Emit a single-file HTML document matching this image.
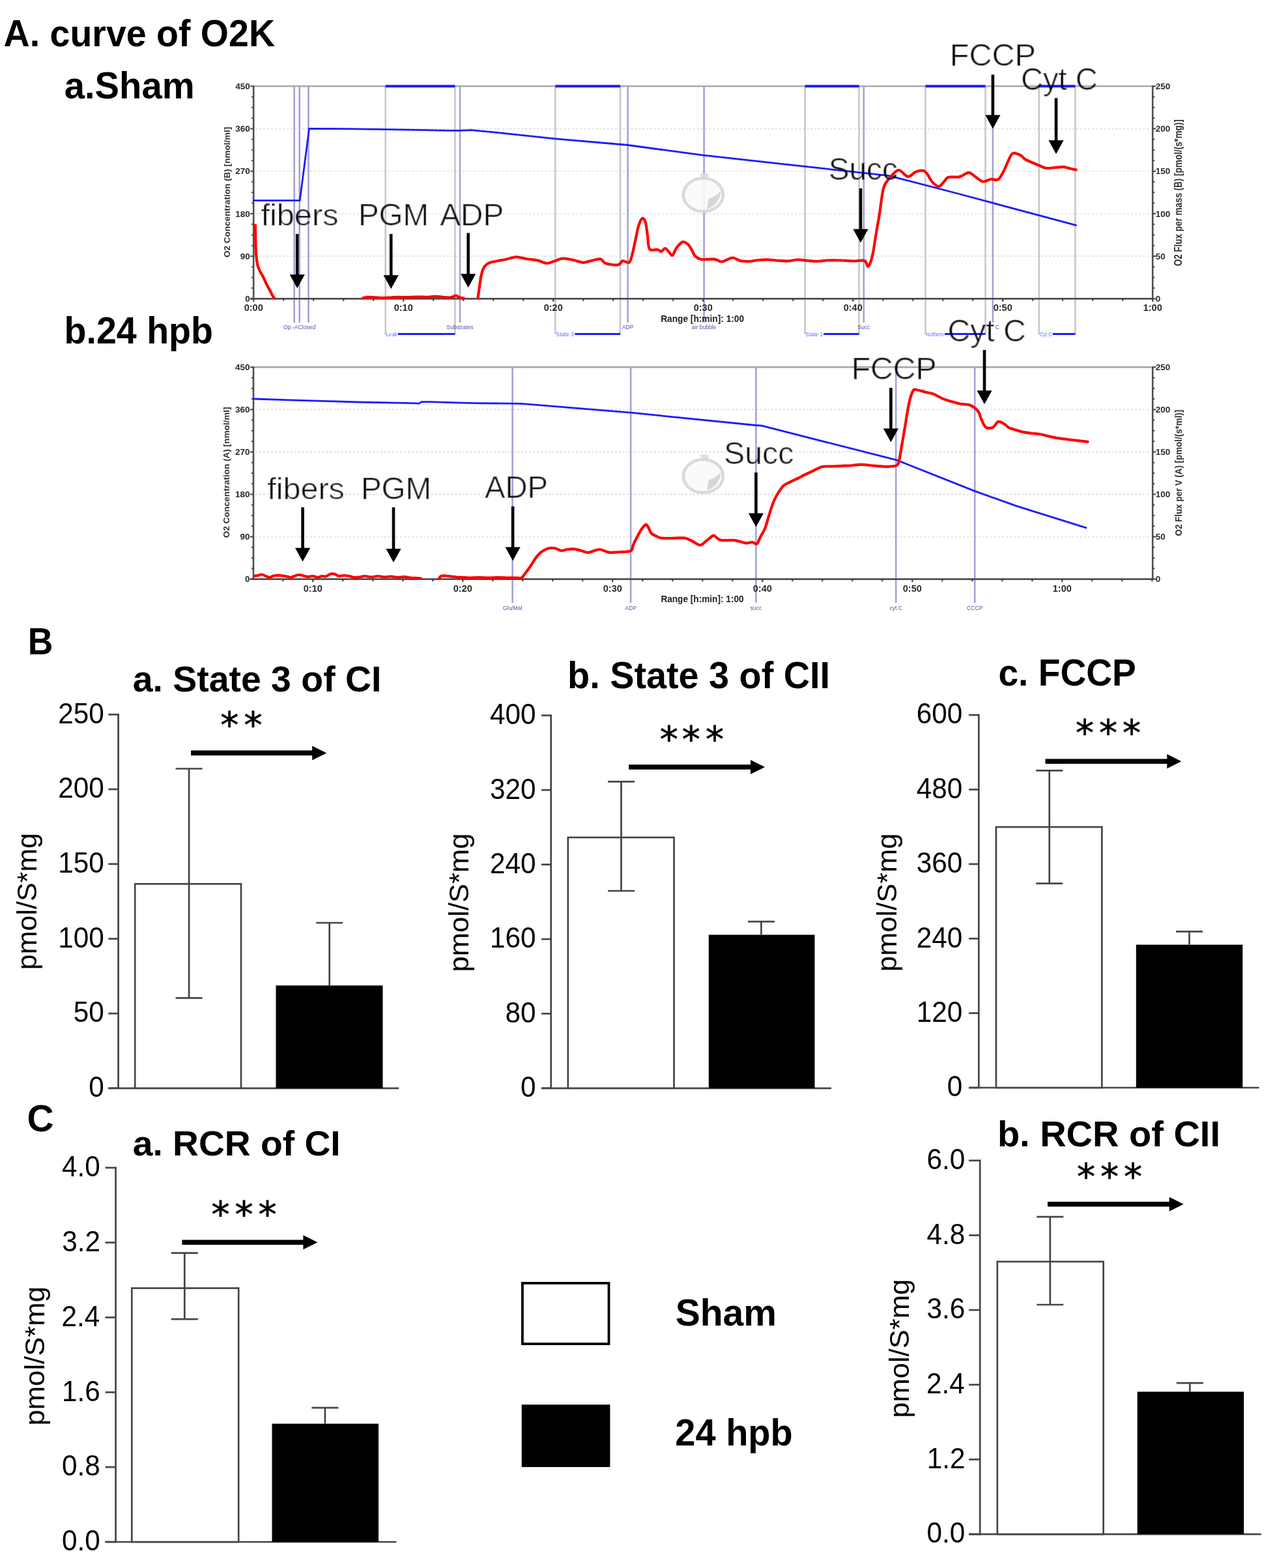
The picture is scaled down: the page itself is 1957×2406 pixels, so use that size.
<!DOCTYPE html>
<html><head><meta charset="utf-8"><title>O2K mitochondrial respiration figure</title>
<style>
html,body{margin:0;padding:0;background:#fff;}
svg{display:block;}
text{font-family:"Liberation Sans",Arial,sans-serif;font-kerning:none;}
</style></head><body>
<svg width="1957" height="2406" viewBox="0 0 1957 2406">
<defs><filter id="soft" x="0" y="0" width="1957" height="2406" filterUnits="userSpaceOnUse"><feGaussianBlur stdDeviation="0.45"/></filter><filter id="thin" x="-5%" y="-20%" width="110%" height="140%"><feMorphology in="SourceGraphic" operator="erode" radius="0.55" result="e"/><feComposite in="e" in2="SourceGraphic" operator="arithmetic" k1="0" k2="0.45" k3="0.55" k4="0"/></filter></defs>
<rect x="0" y="0" width="1957" height="2406" fill="#fff"/>
<text x="5.62" y="70.70" font-size="57.16" textLength="416.40" lengthAdjust="spacingAndGlyphs" font-weight="bold" fill="#000">A. curve of O2K</text>
<text x="98.75" y="151.00" font-size="57.45" textLength="199.93" lengthAdjust="spacingAndGlyphs" font-weight="bold" fill="#000">a.Sham</text>
<text x="98.54" y="526.50" font-size="57.30" textLength="228.44" lengthAdjust="spacingAndGlyphs" font-weight="bold" fill="#000">b.24 hpb</text>
<text x="42.82" y="1003.90" font-size="57.85" textLength="38.60" lengthAdjust="spacingAndGlyphs" font-weight="bold" fill="#000">B</text>
<text x="41.47" y="1736.40" font-size="56.88" textLength="41.09" lengthAdjust="spacingAndGlyphs" font-weight="bold" fill="#000">C</text>
<g filter="url(#soft)">
<line x1="392.20" y1="197.50" x2="1766.20" y2="197.50" stroke="#e0e0e0" stroke-width="1.8" stroke-dasharray="3,3"/>
<line x1="392.20" y1="262.70" x2="1766.20" y2="262.70" stroke="#e0e0e0" stroke-width="1.8" stroke-dasharray="3,3"/>
<line x1="392.20" y1="327.90" x2="1766.20" y2="327.90" stroke="#e0e0e0" stroke-width="1.8" stroke-dasharray="3,3"/>
<line x1="392.20" y1="393.10" x2="1766.20" y2="393.10" stroke="#e0e0e0" stroke-width="1.8" stroke-dasharray="3,3"/>
<line x1="591.70" y1="132.30" x2="591.70" y2="513.00" stroke="#c8c8c8" stroke-width="2.6"/>
<line x1="698.40" y1="132.30" x2="698.40" y2="513.00" stroke="#c8c8c8" stroke-width="2.6"/>
<line x1="852.30" y1="132.30" x2="852.30" y2="513.00" stroke="#c8c8c8" stroke-width="2.6"/>
<line x1="952.00" y1="132.30" x2="952.00" y2="513.00" stroke="#c8c8c8" stroke-width="2.6"/>
<line x1="1235.60" y1="132.30" x2="1235.60" y2="513.00" stroke="#c8c8c8" stroke-width="2.6"/>
<line x1="1318.60" y1="132.30" x2="1318.60" y2="513.00" stroke="#c8c8c8" stroke-width="2.6"/>
<line x1="1420.50" y1="132.30" x2="1420.50" y2="513.00" stroke="#c8c8c8" stroke-width="2.6"/>
<line x1="1512.50" y1="132.30" x2="1512.50" y2="513.00" stroke="#c8c8c8" stroke-width="2.6"/>
<line x1="1594.80" y1="132.30" x2="1594.80" y2="513.00" stroke="#c8c8c8" stroke-width="2.6"/>
<line x1="1650.40" y1="132.30" x2="1650.40" y2="513.00" stroke="#c8c8c8" stroke-width="2.6"/>
<line x1="451.70" y1="132.30" x2="451.70" y2="495.00" stroke="#a2a2d8" stroke-width="2.6"/>
<line x1="459.70" y1="132.30" x2="459.70" y2="495.00" stroke="#a2a2d8" stroke-width="2.6"/>
<line x1="473.50" y1="132.30" x2="473.50" y2="495.00" stroke="#a2a2d8" stroke-width="2.6"/>
<line x1="706.00" y1="132.30" x2="706.00" y2="495.00" stroke="#a2a2d8" stroke-width="2.6"/>
<line x1="963.60" y1="132.30" x2="963.60" y2="495.00" stroke="#a2a2d8" stroke-width="2.6"/>
<line x1="1080.60" y1="132.30" x2="1080.60" y2="495.00" stroke="#a2a2d8" stroke-width="2.6"/>
<line x1="1325.80" y1="132.30" x2="1325.80" y2="495.00" stroke="#a2a2d8" stroke-width="2.6"/>
<line x1="1523.90" y1="132.30" x2="1523.90" y2="495.00" stroke="#a2a2d8" stroke-width="2.6"/>
<g opacity="0.9"><ellipse cx="1079.3" cy="299.0" rx="30.5" ry="25.5" fill="#fafafa" stroke="#d6d6d6" stroke-width="4.5"/><path d="M1085.3,321.0 Q1105.3,313.0 1106.3,293.0 Q1097.3,303.0 1087.3,305.0 Z" fill="#d2d2d2"/><rect x="1075.3" y="266.0" width="12" height="6" fill="#dcdcdc"/></g>
<line x1="389.20" y1="132.30" x2="1769.20" y2="132.30" stroke="#aaaaaa" stroke-width="2.6"/>
<line x1="591.70" y1="132.30" x2="698.40" y2="132.30" stroke="#1a1aff" stroke-width="4"/>
<line x1="610.70" y1="512.50" x2="698.40" y2="512.50" stroke="#1a1aff" stroke-width="3.2"/>
<text x="592.7" y="515.5" font-size="9" fill="#6070ff" textLength="17.0" lengthAdjust="spacingAndGlyphs">Leak</text>
<line x1="852.30" y1="132.30" x2="952.00" y2="132.30" stroke="#1a1aff" stroke-width="4"/>
<line x1="882.30" y1="512.50" x2="952.00" y2="512.50" stroke="#1a1aff" stroke-width="3.2"/>
<text x="853.3" y="515.5" font-size="9" fill="#6070ff" textLength="28.0" lengthAdjust="spacingAndGlyphs">State 3</text>
<line x1="1235.60" y1="132.30" x2="1318.60" y2="132.30" stroke="#1a1aff" stroke-width="4"/>
<line x1="1264.10" y1="512.50" x2="1318.60" y2="512.50" stroke="#1a1aff" stroke-width="3.2"/>
<text x="1236.6" y="515.5" font-size="9" fill="#6070ff" textLength="26.5" lengthAdjust="spacingAndGlyphs">State 1</text>
<line x1="1420.50" y1="132.30" x2="1512.50" y2="132.30" stroke="#1a1aff" stroke-width="4"/>
<line x1="1450.00" y1="512.50" x2="1512.50" y2="512.50" stroke="#1a1aff" stroke-width="3.2"/>
<text x="1421.5" y="515.5" font-size="9" fill="#6070ff" textLength="27.5" lengthAdjust="spacingAndGlyphs">Isotherm</text>
<line x1="1594.80" y1="132.30" x2="1650.40" y2="132.30" stroke="#1a1aff" stroke-width="4"/>
<line x1="1615.80" y1="512.50" x2="1650.40" y2="512.50" stroke="#1a1aff" stroke-width="3.2"/>
<text x="1595.8" y="515.5" font-size="9" fill="#6070ff" textLength="19.0" lengthAdjust="spacingAndGlyphs">Cyt C</text>
<text x="459.7" y="505.4" font-size="8.6" fill="#5050b0" text-anchor="middle">Op.-AClosed</text>
<text x="706.0" y="505.4" font-size="8.6" fill="#5050b0" text-anchor="middle">Substrates</text>
<text x="963.6" y="505.4" font-size="8.6" fill="#5050b0" text-anchor="middle">ADP</text>
<text x="1080.6" y="505.4" font-size="8.6" fill="#5050b0" text-anchor="middle">air bubble</text>
<text x="1325.8" y="505.4" font-size="8.6" fill="#5050b0" text-anchor="middle">Succ</text>
<text x="1530.9" y="505.4" font-size="8.6" fill="#5050b0" text-anchor="middle">C</text>
<line x1="389.20" y1="131.30" x2="389.20" y2="459.80" stroke="#505050" stroke-width="2.6"/>
<line x1="1769.20" y1="131.30" x2="1769.20" y2="459.80" stroke="#505050" stroke-width="2.6"/>
<line x1="384.20" y1="458.30" x2="1769.20" y2="458.30" stroke="#505050" stroke-width="2.8"/>
<line x1="384.20" y1="458.30" x2="389.20" y2="458.30" stroke="#404040" stroke-width="2"/>
<line x1="1769.20" y1="458.30" x2="1774.20" y2="458.30" stroke="#404040" stroke-width="2"/>
<line x1="386.20" y1="442.00" x2="389.20" y2="442.00" stroke="#404040" stroke-width="2"/>
<line x1="1769.20" y1="442.00" x2="1772.20" y2="442.00" stroke="#404040" stroke-width="2"/>
<line x1="386.20" y1="425.70" x2="389.20" y2="425.70" stroke="#404040" stroke-width="2"/>
<line x1="1769.20" y1="425.70" x2="1772.20" y2="425.70" stroke="#404040" stroke-width="2"/>
<line x1="386.20" y1="409.40" x2="389.20" y2="409.40" stroke="#404040" stroke-width="2"/>
<line x1="1769.20" y1="409.40" x2="1772.20" y2="409.40" stroke="#404040" stroke-width="2"/>
<line x1="384.20" y1="393.10" x2="389.20" y2="393.10" stroke="#404040" stroke-width="2"/>
<line x1="1769.20" y1="393.10" x2="1774.20" y2="393.10" stroke="#404040" stroke-width="2"/>
<line x1="386.20" y1="376.80" x2="389.20" y2="376.80" stroke="#404040" stroke-width="2"/>
<line x1="1769.20" y1="376.80" x2="1772.20" y2="376.80" stroke="#404040" stroke-width="2"/>
<line x1="386.20" y1="360.50" x2="389.20" y2="360.50" stroke="#404040" stroke-width="2"/>
<line x1="1769.20" y1="360.50" x2="1772.20" y2="360.50" stroke="#404040" stroke-width="2"/>
<line x1="386.20" y1="344.20" x2="389.20" y2="344.20" stroke="#404040" stroke-width="2"/>
<line x1="1769.20" y1="344.20" x2="1772.20" y2="344.20" stroke="#404040" stroke-width="2"/>
<line x1="384.20" y1="327.90" x2="389.20" y2="327.90" stroke="#404040" stroke-width="2"/>
<line x1="1769.20" y1="327.90" x2="1774.20" y2="327.90" stroke="#404040" stroke-width="2"/>
<line x1="386.20" y1="311.60" x2="389.20" y2="311.60" stroke="#404040" stroke-width="2"/>
<line x1="1769.20" y1="311.60" x2="1772.20" y2="311.60" stroke="#404040" stroke-width="2"/>
<line x1="386.20" y1="295.30" x2="389.20" y2="295.30" stroke="#404040" stroke-width="2"/>
<line x1="1769.20" y1="295.30" x2="1772.20" y2="295.30" stroke="#404040" stroke-width="2"/>
<line x1="386.20" y1="279.00" x2="389.20" y2="279.00" stroke="#404040" stroke-width="2"/>
<line x1="1769.20" y1="279.00" x2="1772.20" y2="279.00" stroke="#404040" stroke-width="2"/>
<line x1="384.20" y1="262.70" x2="389.20" y2="262.70" stroke="#404040" stroke-width="2"/>
<line x1="1769.20" y1="262.70" x2="1774.20" y2="262.70" stroke="#404040" stroke-width="2"/>
<line x1="386.20" y1="246.40" x2="389.20" y2="246.40" stroke="#404040" stroke-width="2"/>
<line x1="1769.20" y1="246.40" x2="1772.20" y2="246.40" stroke="#404040" stroke-width="2"/>
<line x1="386.20" y1="230.10" x2="389.20" y2="230.10" stroke="#404040" stroke-width="2"/>
<line x1="1769.20" y1="230.10" x2="1772.20" y2="230.10" stroke="#404040" stroke-width="2"/>
<line x1="386.20" y1="213.80" x2="389.20" y2="213.80" stroke="#404040" stroke-width="2"/>
<line x1="1769.20" y1="213.80" x2="1772.20" y2="213.80" stroke="#404040" stroke-width="2"/>
<line x1="384.20" y1="197.50" x2="389.20" y2="197.50" stroke="#404040" stroke-width="2"/>
<line x1="1769.20" y1="197.50" x2="1774.20" y2="197.50" stroke="#404040" stroke-width="2"/>
<line x1="386.20" y1="181.20" x2="389.20" y2="181.20" stroke="#404040" stroke-width="2"/>
<line x1="1769.20" y1="181.20" x2="1772.20" y2="181.20" stroke="#404040" stroke-width="2"/>
<line x1="386.20" y1="164.90" x2="389.20" y2="164.90" stroke="#404040" stroke-width="2"/>
<line x1="1769.20" y1="164.90" x2="1772.20" y2="164.90" stroke="#404040" stroke-width="2"/>
<line x1="386.20" y1="148.60" x2="389.20" y2="148.60" stroke="#404040" stroke-width="2"/>
<line x1="1769.20" y1="148.60" x2="1772.20" y2="148.60" stroke="#404040" stroke-width="2"/>
<line x1="384.20" y1="132.30" x2="389.20" y2="132.30" stroke="#404040" stroke-width="2"/>
<line x1="1769.20" y1="132.30" x2="1774.20" y2="132.30" stroke="#404040" stroke-width="2"/>
<line x1="389.20" y1="458.30" x2="389.20" y2="462.80" stroke="#404040" stroke-width="2.2"/>
<text x="389.20" y="476.88" font-size="14.5" text-anchor="middle" font-weight="bold" fill="#2a2a2a">0:00</text>
<line x1="435.20" y1="458.30" x2="435.20" y2="461.80" stroke="#404040" stroke-width="2.2"/>
<line x1="481.20" y1="458.30" x2="481.20" y2="461.80" stroke="#404040" stroke-width="2.2"/>
<line x1="527.20" y1="458.30" x2="527.20" y2="461.80" stroke="#404040" stroke-width="2.2"/>
<line x1="573.20" y1="458.30" x2="573.20" y2="461.80" stroke="#404040" stroke-width="2.2"/>
<line x1="619.20" y1="458.30" x2="619.20" y2="462.80" stroke="#404040" stroke-width="2.2"/>
<text x="619.20" y="476.88" font-size="14.5" text-anchor="middle" font-weight="bold" fill="#2a2a2a">0:10</text>
<line x1="665.20" y1="458.30" x2="665.20" y2="461.80" stroke="#404040" stroke-width="2.2"/>
<line x1="711.20" y1="458.30" x2="711.20" y2="461.80" stroke="#404040" stroke-width="2.2"/>
<line x1="757.20" y1="458.30" x2="757.20" y2="461.80" stroke="#404040" stroke-width="2.2"/>
<line x1="803.20" y1="458.30" x2="803.20" y2="461.80" stroke="#404040" stroke-width="2.2"/>
<line x1="849.20" y1="458.30" x2="849.20" y2="462.80" stroke="#404040" stroke-width="2.2"/>
<text x="849.20" y="476.88" font-size="14.5" text-anchor="middle" font-weight="bold" fill="#2a2a2a">0:20</text>
<line x1="895.20" y1="458.30" x2="895.20" y2="461.80" stroke="#404040" stroke-width="2.2"/>
<line x1="941.20" y1="458.30" x2="941.20" y2="461.80" stroke="#404040" stroke-width="2.2"/>
<line x1="987.20" y1="458.30" x2="987.20" y2="461.80" stroke="#404040" stroke-width="2.2"/>
<line x1="1033.20" y1="458.30" x2="1033.20" y2="461.80" stroke="#404040" stroke-width="2.2"/>
<line x1="1079.20" y1="458.30" x2="1079.20" y2="462.80" stroke="#404040" stroke-width="2.2"/>
<text x="1079.20" y="476.88" font-size="14.5" text-anchor="middle" font-weight="bold" fill="#2a2a2a">0:30</text>
<line x1="1125.20" y1="458.30" x2="1125.20" y2="461.80" stroke="#404040" stroke-width="2.2"/>
<line x1="1171.20" y1="458.30" x2="1171.20" y2="461.80" stroke="#404040" stroke-width="2.2"/>
<line x1="1217.20" y1="458.30" x2="1217.20" y2="461.80" stroke="#404040" stroke-width="2.2"/>
<line x1="1263.20" y1="458.30" x2="1263.20" y2="461.80" stroke="#404040" stroke-width="2.2"/>
<line x1="1309.20" y1="458.30" x2="1309.20" y2="462.80" stroke="#404040" stroke-width="2.2"/>
<text x="1309.20" y="476.88" font-size="14.5" text-anchor="middle" font-weight="bold" fill="#2a2a2a">0:40</text>
<line x1="1355.20" y1="458.30" x2="1355.20" y2="461.80" stroke="#404040" stroke-width="2.2"/>
<line x1="1401.20" y1="458.30" x2="1401.20" y2="461.80" stroke="#404040" stroke-width="2.2"/>
<line x1="1447.20" y1="458.30" x2="1447.20" y2="461.80" stroke="#404040" stroke-width="2.2"/>
<line x1="1493.20" y1="458.30" x2="1493.20" y2="461.80" stroke="#404040" stroke-width="2.2"/>
<line x1="1539.20" y1="458.30" x2="1539.20" y2="462.80" stroke="#404040" stroke-width="2.2"/>
<text x="1539.20" y="476.88" font-size="14.5" text-anchor="middle" font-weight="bold" fill="#2a2a2a">0:50</text>
<line x1="1585.20" y1="458.30" x2="1585.20" y2="461.80" stroke="#404040" stroke-width="2.2"/>
<line x1="1631.20" y1="458.30" x2="1631.20" y2="461.80" stroke="#404040" stroke-width="2.2"/>
<line x1="1677.20" y1="458.30" x2="1677.20" y2="461.80" stroke="#404040" stroke-width="2.2"/>
<line x1="1723.20" y1="458.30" x2="1723.20" y2="461.80" stroke="#404040" stroke-width="2.2"/>
<line x1="1769.20" y1="458.30" x2="1769.20" y2="462.80" stroke="#404040" stroke-width="2.2"/>
<text x="1769.20" y="476.88" font-size="14.5" text-anchor="middle" font-weight="bold" fill="#2a2a2a">1:00</text>
<text x="383.70" y="463.03" font-size="13.5" text-anchor="end" font-weight="bold" fill="#2a2a2a">0</text>
<text x="1773.70" y="463.03" font-size="13.5" text-anchor="start" font-weight="bold" fill="#2a2a2a">0</text>
<text x="383.70" y="397.83" font-size="13.5" text-anchor="end" font-weight="bold" fill="#2a2a2a">90</text>
<text x="1773.70" y="397.83" font-size="13.5" text-anchor="start" font-weight="bold" fill="#2a2a2a">50</text>
<text x="383.70" y="332.62" font-size="13.5" text-anchor="end" font-weight="bold" fill="#2a2a2a">180</text>
<text x="1773.70" y="332.62" font-size="13.5" text-anchor="start" font-weight="bold" fill="#2a2a2a">100</text>
<text x="383.70" y="267.43" font-size="13.5" text-anchor="end" font-weight="bold" fill="#2a2a2a">270</text>
<text x="1773.70" y="267.43" font-size="13.5" text-anchor="start" font-weight="bold" fill="#2a2a2a">150</text>
<text x="383.70" y="202.22" font-size="13.5" text-anchor="end" font-weight="bold" fill="#2a2a2a">360</text>
<text x="1773.70" y="202.22" font-size="13.5" text-anchor="start" font-weight="bold" fill="#2a2a2a">200</text>
<text x="383.70" y="137.03" font-size="13.5" text-anchor="end" font-weight="bold" fill="#2a2a2a">450</text>
<text x="1773.70" y="137.03" font-size="13.5" text-anchor="start" font-weight="bold" fill="#2a2a2a">250</text>
<text transform="rotate(-90)" x="-394.94" y="353.19" font-size="13.52" textLength="200.19" lengthAdjust="spacingAndGlyphs" font-weight="bold" fill="#303030">O2 Concentration  (B) [nmol/ml]</text>
<text transform="rotate(-90)" x="-408.34" y="1814.10" font-size="15.59" textLength="225.09" lengthAdjust="spacingAndGlyphs" font-weight="bold" fill="#303030">O2 Flux per mass  (B) [pmol/(s*mg)]</text>
<text x="1014.18" y="493.90" font-size="14.35" textLength="127.88" lengthAdjust="spacingAndGlyphs" font-weight="bold" fill="#202020">Range [h:min]: 1:00</text>
<polyline points="389.2,307.6 460.2,307.6 474.6,197.3 520.0,197.6 580.0,198.4 640.0,199.3 690.0,200.3 705.0,200.4 723.5,199.6 760.0,203.2 851.8,212.8 963.0,222.5 1079.0,238.2 1364.5,269.7 1470.0,297.0 1651.6,345.7" fill="none" stroke="#1a1aff" stroke-width="2.8" stroke-linejoin="round" stroke-linecap="round"/>
<path d="M392.0,345.5 C392.1,351.2 392.2,371.2 392.5,380.0 C392.8,388.8 393.4,393.2 394.0,398.0 C394.6,402.8 395.0,405.7 396.0,409.0 C397.0,412.3 398.7,415.3 400.0,418.0 C401.3,420.7 402.5,422.0 404.0,425.0 C405.5,428.0 407.3,432.7 409.0,436.0 C410.7,439.3 412.5,442.2 414.0,445.0 C415.5,447.8 416.8,450.9 418.0,453.0 C419.2,455.1 420.5,456.8 421.0,457.5" fill="none" stroke="#ff0000" stroke-width="4.2" stroke-linejoin="round" stroke-linecap="round"/>
<path d="M557.0,457.3 C558.3,457.1 562.0,456.0 565.0,455.8 C568.0,455.6 571.7,456.1 575.0,456.3 C578.3,456.5 580.8,457.0 585.0,457.0 C589.2,457.0 595.5,456.7 600.0,456.5 C604.5,456.3 607.8,455.9 612.0,455.8 C616.2,455.8 620.3,456.2 625.0,456.2 C629.7,456.1 635.0,455.6 640.0,455.5 C645.0,455.4 650.3,456.0 655.0,455.9 C659.7,455.8 663.8,454.8 668.0,454.8 C672.2,454.8 676.0,455.7 680.0,456.0 C684.0,456.3 688.7,456.8 692.0,456.4 C695.3,456.0 697.8,453.5 700.0,453.5 C702.2,453.5 703.0,455.8 705.0,456.5 C707.0,457.2 710.8,457.4 712.0,457.6" fill="none" stroke="#ff0000" stroke-width="4.2" stroke-linejoin="round" stroke-linecap="round"/>
<path d="M733.5,457.6 C733.9,454.7 735.2,445.8 736.0,440.0 C736.8,434.2 737.5,427.6 738.5,423.0 C739.5,418.4 740.5,415.1 741.7,412.4 C743.0,409.6 744.2,408.1 746.0,406.5 C747.8,404.9 749.4,403.9 752.6,402.8 C755.8,401.7 761.0,400.8 765.0,400.0 C769.0,399.2 772.4,398.9 776.8,398.0 C781.2,397.1 787.4,394.7 791.3,394.3 C795.2,393.9 796.9,395.0 800.0,395.5 C803.1,396.0 805.8,396.8 810.0,397.5 C814.2,398.2 820.0,398.4 825.0,399.5 C830.0,400.6 835.5,403.8 839.7,404.0 C843.9,404.2 846.0,402.2 850.0,401.0 C854.0,399.8 858.9,397.0 863.9,396.7 C868.9,396.4 874.8,398.0 880.0,399.0 C885.2,400.0 890.3,402.7 895.3,402.8 C900.3,402.9 905.5,400.4 910.0,399.5 C914.5,398.6 918.8,396.8 922.0,397.5 C925.2,398.2 924.8,402.5 929.2,404.0 C933.6,405.5 944.2,407.0 948.6,406.4 C953.0,405.8 953.0,400.9 955.8,400.3 C958.6,399.7 963.1,404.2 965.5,402.8 C967.9,401.4 968.4,397.5 970.0,392.0 C971.6,386.5 973.3,377.5 975.0,370.0 C976.7,362.5 978.2,352.8 980.0,347.0 C981.8,341.2 984.2,335.8 986.0,335.0 C987.8,334.2 989.7,337.5 991.0,342.0 C992.3,346.5 993.0,355.3 994.0,362.0 C995.0,368.7 994.5,378.7 997.0,382.2 C999.5,385.7 1006.0,382.4 1009.0,383.0 C1012.0,383.6 1013.0,386.1 1015.0,385.8 C1017.0,385.5 1019.0,380.8 1021.0,381.0 C1023.0,381.2 1025.2,385.2 1027.0,387.0 C1028.8,388.8 1030.2,392.9 1032.0,391.9 C1033.8,390.9 1035.8,384.1 1038.0,381.0 C1040.2,377.9 1043.0,374.6 1045.0,373.0 C1047.0,371.4 1048.0,370.8 1050.0,371.3 C1052.0,371.8 1055.0,373.9 1057.0,376.0 C1059.0,378.1 1060.3,381.2 1062.0,384.0 C1063.7,386.8 1064.6,390.7 1067.0,393.0 C1069.4,395.3 1071.8,397.2 1076.6,398.0 C1081.4,398.8 1091.0,397.1 1096.0,397.7 C1101.0,398.3 1103.6,401.5 1106.9,401.6 C1110.2,401.7 1113.0,399.5 1116.0,398.5 C1119.0,397.5 1121.5,395.2 1125.0,395.5 C1128.5,395.8 1132.8,399.4 1137.0,400.3 C1141.2,401.2 1145.3,401.2 1150.0,401.0 C1154.7,400.8 1160.0,399.4 1165.0,399.0 C1170.0,398.6 1175.0,398.3 1180.0,398.5 C1185.0,398.7 1190.0,399.7 1195.0,400.0 C1200.0,400.3 1205.0,400.8 1210.0,400.5 C1215.0,400.2 1220.0,398.6 1225.0,398.5 C1230.0,398.4 1235.0,399.6 1240.0,400.0 C1245.0,400.4 1250.0,401.1 1255.0,401.0 C1260.0,400.9 1264.2,399.8 1270.0,399.5 C1275.8,399.2 1283.3,399.3 1290.0,399.5 C1296.7,399.7 1303.8,400.4 1310.0,400.5 C1316.2,400.6 1323.3,398.6 1327.0,400.0 C1330.7,401.4 1330.4,408.3 1331.9,408.8 C1333.4,409.3 1334.7,406.5 1336.0,403.0 C1337.3,399.5 1338.5,395.7 1340.0,388.0 C1341.5,380.3 1343.3,367.0 1345.0,357.0 C1346.7,347.0 1348.2,339.1 1350.0,327.8 C1351.8,316.5 1353.6,297.9 1356.0,289.0 C1358.4,280.1 1360.7,279.1 1364.5,274.5 C1368.3,269.9 1374.2,261.8 1379.0,261.2 C1383.8,260.6 1389.1,270.6 1393.6,271.0 C1398.0,271.4 1401.7,265.1 1405.7,263.6 C1409.7,262.1 1414.8,261.3 1417.8,262.0 C1420.8,262.7 1421.8,265.1 1424.0,268.0 C1426.2,270.9 1428.2,276.4 1431.0,279.4 C1433.8,282.4 1438.2,285.9 1441.0,286.0 C1443.8,286.1 1445.6,282.3 1448.0,280.0 C1450.4,277.7 1451.5,273.4 1455.6,272.0 C1459.7,270.6 1467.4,272.6 1472.6,271.4 C1477.8,270.2 1482.8,264.8 1487.0,264.9 C1491.2,265.0 1494.3,269.7 1498.0,272.0 C1501.7,274.3 1505.1,278.1 1508.9,278.6 C1512.7,279.1 1517.2,275.5 1521.0,275.0 C1524.8,274.5 1528.7,277.5 1531.9,275.5 C1535.1,273.5 1537.6,267.9 1540.3,263.0 C1543.0,258.1 1545.6,250.7 1548.0,246.0 C1550.4,241.3 1551.7,236.3 1554.9,235.1 C1558.1,233.9 1563.8,237.1 1567.0,238.7 C1570.2,240.3 1569.8,242.4 1574.2,244.8 C1578.6,247.2 1588.3,251.0 1593.6,253.2 C1598.8,255.4 1601.3,257.4 1605.7,258.0 C1610.1,258.6 1615.6,257.3 1620.0,257.0 C1624.4,256.7 1628.6,255.9 1632.3,256.1 C1636.0,256.4 1638.8,257.8 1642.0,258.5 C1645.2,259.2 1650.0,260.2 1651.6,260.5" fill="none" stroke="#ff0000" stroke-width="4.2" stroke-linejoin="round" stroke-linecap="round"/>
</g>
<g filter="url(#soft)">
<line x1="392.00" y1="628.44" x2="1766.20" y2="628.44" stroke="#e0e0e0" stroke-width="1.8" stroke-dasharray="3,3"/>
<line x1="392.00" y1="693.48" x2="1766.20" y2="693.48" stroke="#e0e0e0" stroke-width="1.8" stroke-dasharray="3,3"/>
<line x1="392.00" y1="758.52" x2="1766.20" y2="758.52" stroke="#e0e0e0" stroke-width="1.8" stroke-dasharray="3,3"/>
<line x1="392.00" y1="823.56" x2="1766.20" y2="823.56" stroke="#e0e0e0" stroke-width="1.8" stroke-dasharray="3,3"/>
<line x1="786.60" y1="563.40" x2="786.60" y2="925.00" stroke="#a2a2d8" stroke-width="2.6"/>
<line x1="968.10" y1="563.40" x2="968.10" y2="925.00" stroke="#a2a2d8" stroke-width="2.6"/>
<line x1="1160.40" y1="563.40" x2="1160.40" y2="925.00" stroke="#a2a2d8" stroke-width="2.6"/>
<line x1="1375.20" y1="563.40" x2="1375.20" y2="925.00" stroke="#a2a2d8" stroke-width="2.6"/>
<line x1="1496.20" y1="563.40" x2="1496.20" y2="925.00" stroke="#a2a2d8" stroke-width="2.6"/>
<g opacity="0.9"><ellipse cx="1079.4" cy="730.5" rx="30.5" ry="25.5" fill="#fafafa" stroke="#d6d6d6" stroke-width="4.5"/><path d="M1085.4,752.5 Q1105.4,744.5 1106.4,724.5 Q1097.4,734.5 1087.4,736.5 Z" fill="#d2d2d2"/><rect x="1075.4" y="697.5" width="12" height="6" fill="#dcdcdc"/></g>
<line x1="389.00" y1="563.40" x2="1769.20" y2="563.40" stroke="#aaaaaa" stroke-width="2.6"/>
<text x="786.6" y="936.1" font-size="8.6" fill="#5050b0" text-anchor="middle">Glu/Mal</text>
<text x="968.1" y="936.1" font-size="8.6" fill="#5050b0" text-anchor="middle">ADP</text>
<text x="1160.4" y="936.1" font-size="8.6" fill="#5050b0" text-anchor="middle">succ</text>
<text x="1375.2" y="936.1" font-size="8.6" fill="#5050b0" text-anchor="middle">cyt C</text>
<text x="1496.2" y="936.1" font-size="8.6" fill="#5050b0" text-anchor="middle">CCCP</text>
<line x1="389.00" y1="562.40" x2="389.00" y2="890.10" stroke="#505050" stroke-width="2.6"/>
<line x1="1769.20" y1="562.40" x2="1769.20" y2="890.10" stroke="#505050" stroke-width="2.6"/>
<line x1="384.00" y1="888.60" x2="1769.20" y2="888.60" stroke="#505050" stroke-width="2.8"/>
<line x1="384.00" y1="888.60" x2="389.00" y2="888.60" stroke="#404040" stroke-width="2"/>
<line x1="1769.20" y1="888.60" x2="1774.20" y2="888.60" stroke="#404040" stroke-width="2"/>
<line x1="386.00" y1="872.34" x2="389.00" y2="872.34" stroke="#404040" stroke-width="2"/>
<line x1="1769.20" y1="872.34" x2="1772.20" y2="872.34" stroke="#404040" stroke-width="2"/>
<line x1="386.00" y1="856.08" x2="389.00" y2="856.08" stroke="#404040" stroke-width="2"/>
<line x1="1769.20" y1="856.08" x2="1772.20" y2="856.08" stroke="#404040" stroke-width="2"/>
<line x1="386.00" y1="839.82" x2="389.00" y2="839.82" stroke="#404040" stroke-width="2"/>
<line x1="1769.20" y1="839.82" x2="1772.20" y2="839.82" stroke="#404040" stroke-width="2"/>
<line x1="384.00" y1="823.56" x2="389.00" y2="823.56" stroke="#404040" stroke-width="2"/>
<line x1="1769.20" y1="823.56" x2="1774.20" y2="823.56" stroke="#404040" stroke-width="2"/>
<line x1="386.00" y1="807.30" x2="389.00" y2="807.30" stroke="#404040" stroke-width="2"/>
<line x1="1769.20" y1="807.30" x2="1772.20" y2="807.30" stroke="#404040" stroke-width="2"/>
<line x1="386.00" y1="791.04" x2="389.00" y2="791.04" stroke="#404040" stroke-width="2"/>
<line x1="1769.20" y1="791.04" x2="1772.20" y2="791.04" stroke="#404040" stroke-width="2"/>
<line x1="386.00" y1="774.78" x2="389.00" y2="774.78" stroke="#404040" stroke-width="2"/>
<line x1="1769.20" y1="774.78" x2="1772.20" y2="774.78" stroke="#404040" stroke-width="2"/>
<line x1="384.00" y1="758.52" x2="389.00" y2="758.52" stroke="#404040" stroke-width="2"/>
<line x1="1769.20" y1="758.52" x2="1774.20" y2="758.52" stroke="#404040" stroke-width="2"/>
<line x1="386.00" y1="742.26" x2="389.00" y2="742.26" stroke="#404040" stroke-width="2"/>
<line x1="1769.20" y1="742.26" x2="1772.20" y2="742.26" stroke="#404040" stroke-width="2"/>
<line x1="386.00" y1="726.00" x2="389.00" y2="726.00" stroke="#404040" stroke-width="2"/>
<line x1="1769.20" y1="726.00" x2="1772.20" y2="726.00" stroke="#404040" stroke-width="2"/>
<line x1="386.00" y1="709.74" x2="389.00" y2="709.74" stroke="#404040" stroke-width="2"/>
<line x1="1769.20" y1="709.74" x2="1772.20" y2="709.74" stroke="#404040" stroke-width="2"/>
<line x1="384.00" y1="693.48" x2="389.00" y2="693.48" stroke="#404040" stroke-width="2"/>
<line x1="1769.20" y1="693.48" x2="1774.20" y2="693.48" stroke="#404040" stroke-width="2"/>
<line x1="386.00" y1="677.22" x2="389.00" y2="677.22" stroke="#404040" stroke-width="2"/>
<line x1="1769.20" y1="677.22" x2="1772.20" y2="677.22" stroke="#404040" stroke-width="2"/>
<line x1="386.00" y1="660.96" x2="389.00" y2="660.96" stroke="#404040" stroke-width="2"/>
<line x1="1769.20" y1="660.96" x2="1772.20" y2="660.96" stroke="#404040" stroke-width="2"/>
<line x1="386.00" y1="644.70" x2="389.00" y2="644.70" stroke="#404040" stroke-width="2"/>
<line x1="1769.20" y1="644.70" x2="1772.20" y2="644.70" stroke="#404040" stroke-width="2"/>
<line x1="384.00" y1="628.44" x2="389.00" y2="628.44" stroke="#404040" stroke-width="2"/>
<line x1="1769.20" y1="628.44" x2="1774.20" y2="628.44" stroke="#404040" stroke-width="2"/>
<line x1="386.00" y1="612.18" x2="389.00" y2="612.18" stroke="#404040" stroke-width="2"/>
<line x1="1769.20" y1="612.18" x2="1772.20" y2="612.18" stroke="#404040" stroke-width="2"/>
<line x1="386.00" y1="595.92" x2="389.00" y2="595.92" stroke="#404040" stroke-width="2"/>
<line x1="1769.20" y1="595.92" x2="1772.20" y2="595.92" stroke="#404040" stroke-width="2"/>
<line x1="386.00" y1="579.66" x2="389.00" y2="579.66" stroke="#404040" stroke-width="2"/>
<line x1="1769.20" y1="579.66" x2="1772.20" y2="579.66" stroke="#404040" stroke-width="2"/>
<line x1="384.00" y1="563.40" x2="389.00" y2="563.40" stroke="#404040" stroke-width="2"/>
<line x1="1769.20" y1="563.40" x2="1774.20" y2="563.40" stroke="#404040" stroke-width="2"/>
<line x1="434.31" y1="888.60" x2="434.31" y2="892.10" stroke="#404040" stroke-width="2.2"/>
<line x1="480.31" y1="888.60" x2="480.31" y2="893.10" stroke="#404040" stroke-width="2.2"/>
<text x="480.31" y="907.78" font-size="14.5" text-anchor="middle" font-weight="bold" fill="#2a2a2a">0:10</text>
<line x1="526.31" y1="888.60" x2="526.31" y2="892.10" stroke="#404040" stroke-width="2.2"/>
<line x1="572.31" y1="888.60" x2="572.31" y2="892.10" stroke="#404040" stroke-width="2.2"/>
<line x1="618.31" y1="888.60" x2="618.31" y2="892.10" stroke="#404040" stroke-width="2.2"/>
<line x1="664.31" y1="888.60" x2="664.31" y2="892.10" stroke="#404040" stroke-width="2.2"/>
<line x1="710.31" y1="888.60" x2="710.31" y2="893.10" stroke="#404040" stroke-width="2.2"/>
<text x="710.31" y="907.78" font-size="14.5" text-anchor="middle" font-weight="bold" fill="#2a2a2a">0:20</text>
<line x1="756.31" y1="888.60" x2="756.31" y2="892.10" stroke="#404040" stroke-width="2.2"/>
<line x1="802.31" y1="888.60" x2="802.31" y2="892.10" stroke="#404040" stroke-width="2.2"/>
<line x1="848.31" y1="888.60" x2="848.31" y2="892.10" stroke="#404040" stroke-width="2.2"/>
<line x1="894.31" y1="888.60" x2="894.31" y2="892.10" stroke="#404040" stroke-width="2.2"/>
<line x1="940.31" y1="888.60" x2="940.31" y2="893.10" stroke="#404040" stroke-width="2.2"/>
<text x="940.31" y="907.78" font-size="14.5" text-anchor="middle" font-weight="bold" fill="#2a2a2a">0:30</text>
<line x1="986.31" y1="888.60" x2="986.31" y2="892.10" stroke="#404040" stroke-width="2.2"/>
<line x1="1032.31" y1="888.60" x2="1032.31" y2="892.10" stroke="#404040" stroke-width="2.2"/>
<line x1="1078.31" y1="888.60" x2="1078.31" y2="892.10" stroke="#404040" stroke-width="2.2"/>
<line x1="1124.31" y1="888.60" x2="1124.31" y2="892.10" stroke="#404040" stroke-width="2.2"/>
<line x1="1170.31" y1="888.60" x2="1170.31" y2="893.10" stroke="#404040" stroke-width="2.2"/>
<text x="1170.31" y="907.78" font-size="14.5" text-anchor="middle" font-weight="bold" fill="#2a2a2a">0:40</text>
<line x1="1216.31" y1="888.60" x2="1216.31" y2="892.10" stroke="#404040" stroke-width="2.2"/>
<line x1="1262.31" y1="888.60" x2="1262.31" y2="892.10" stroke="#404040" stroke-width="2.2"/>
<line x1="1308.31" y1="888.60" x2="1308.31" y2="892.10" stroke="#404040" stroke-width="2.2"/>
<line x1="1354.31" y1="888.60" x2="1354.31" y2="892.10" stroke="#404040" stroke-width="2.2"/>
<line x1="1400.31" y1="888.60" x2="1400.31" y2="893.10" stroke="#404040" stroke-width="2.2"/>
<text x="1400.31" y="907.78" font-size="14.5" text-anchor="middle" font-weight="bold" fill="#2a2a2a">0:50</text>
<line x1="1446.31" y1="888.60" x2="1446.31" y2="892.10" stroke="#404040" stroke-width="2.2"/>
<line x1="1492.31" y1="888.60" x2="1492.31" y2="892.10" stroke="#404040" stroke-width="2.2"/>
<line x1="1538.31" y1="888.60" x2="1538.31" y2="892.10" stroke="#404040" stroke-width="2.2"/>
<line x1="1584.31" y1="888.60" x2="1584.31" y2="892.10" stroke="#404040" stroke-width="2.2"/>
<line x1="1630.31" y1="888.60" x2="1630.31" y2="893.10" stroke="#404040" stroke-width="2.2"/>
<text x="1630.31" y="907.78" font-size="14.5" text-anchor="middle" font-weight="bold" fill="#2a2a2a">1:00</text>
<line x1="1676.31" y1="888.60" x2="1676.31" y2="892.10" stroke="#404040" stroke-width="2.2"/>
<line x1="1722.31" y1="888.60" x2="1722.31" y2="892.10" stroke="#404040" stroke-width="2.2"/>
<line x1="1768.31" y1="888.60" x2="1768.31" y2="892.10" stroke="#404040" stroke-width="2.2"/>
<text x="383.50" y="893.33" font-size="13.5" text-anchor="end" font-weight="bold" fill="#2a2a2a">0</text>
<text x="1773.70" y="893.33" font-size="13.5" text-anchor="start" font-weight="bold" fill="#2a2a2a">0</text>
<text x="383.50" y="828.29" font-size="13.5" text-anchor="end" font-weight="bold" fill="#2a2a2a">90</text>
<text x="1773.70" y="828.29" font-size="13.5" text-anchor="start" font-weight="bold" fill="#2a2a2a">50</text>
<text x="383.50" y="763.25" font-size="13.5" text-anchor="end" font-weight="bold" fill="#2a2a2a">180</text>
<text x="1773.70" y="763.25" font-size="13.5" text-anchor="start" font-weight="bold" fill="#2a2a2a">100</text>
<text x="383.50" y="698.21" font-size="13.5" text-anchor="end" font-weight="bold" fill="#2a2a2a">270</text>
<text x="1773.70" y="698.21" font-size="13.5" text-anchor="start" font-weight="bold" fill="#2a2a2a">150</text>
<text x="383.50" y="633.17" font-size="13.5" text-anchor="end" font-weight="bold" fill="#2a2a2a">360</text>
<text x="1773.70" y="633.17" font-size="13.5" text-anchor="start" font-weight="bold" fill="#2a2a2a">200</text>
<text x="383.50" y="568.12" font-size="13.5" text-anchor="end" font-weight="bold" fill="#2a2a2a">450</text>
<text x="1773.70" y="568.12" font-size="13.5" text-anchor="start" font-weight="bold" fill="#2a2a2a">250</text>
<text transform="rotate(-90)" x="-825.35" y="352.11" font-size="12.98" textLength="200.89" lengthAdjust="spacingAndGlyphs" font-weight="bold" fill="#303030">O2 Concentration  (A) [nmol/ml]</text>
<text transform="rotate(-90)" x="-822.44" y="1813.84" font-size="15.23" textLength="193.67" lengthAdjust="spacingAndGlyphs" font-weight="bold" fill="#303030">O2 Flux per V  (A) [pmol/(s*ml)]</text>
<text x="1014.39" y="923.90" font-size="14.35" textLength="127.17" lengthAdjust="spacingAndGlyphs" font-weight="bold" fill="#202020">Range [h:min]: 1:00</text>
<polyline points="389.0,612.0 445.0,613.8 549.0,617.0 620.0,618.3 638.9,618.9 643.0,619.2 647.0,616.6 660.0,616.6 700.0,617.8 728.4,618.6 800.0,619.4 968.0,633.2 1159.2,652.5 1169.0,653.2 1377.0,706.2 1495.7,753.4 1560.0,776.4 1667.0,809.8" fill="none" stroke="#1a1aff" stroke-width="2.8" stroke-linejoin="round" stroke-linecap="round"/>
<path d="M390.0,884.0 C391.0,883.8 394.0,883.4 396.0,883.0 C398.0,882.6 400.0,881.3 402.0,881.5 C404.0,881.7 406.0,883.2 408.0,884.0 C410.0,884.8 412.0,886.1 414.0,886.0 C416.0,885.9 417.3,884.0 420.0,883.5 C422.7,883.0 426.7,882.8 430.0,883.0 C433.3,883.2 437.3,884.0 440.0,884.5 C442.7,885.0 444.0,886.1 446.0,886.0 C448.0,885.9 450.0,884.7 452.0,884.0 C454.0,883.3 456.0,882.2 458.0,882.0 C460.0,881.8 461.7,882.5 464.0,883.0 C466.3,883.5 469.3,884.8 472.0,885.0 C474.7,885.2 477.3,883.8 480.0,884.0 C482.7,884.2 485.7,886.0 488.0,886.0 C490.3,886.0 492.0,884.2 494.0,884.0 C496.0,883.8 497.7,885.1 500.0,884.5 C502.3,883.9 505.7,881.1 508.0,880.5 C510.3,879.9 512.0,880.4 514.0,881.0 C516.0,881.6 517.7,883.7 520.0,884.0 C522.3,884.3 525.3,883.0 528.0,883.0 C530.7,883.0 533.3,883.5 536.0,884.0 C538.7,884.5 541.3,885.8 544.0,886.0 C546.7,886.2 549.3,885.8 552.0,885.5 C554.7,885.2 557.0,884.0 560.0,884.0 C563.0,884.0 566.7,885.5 570.0,885.5 C573.3,885.5 576.7,884.0 580.0,884.0 C583.3,884.0 586.7,885.4 590.0,885.5 C593.3,885.6 596.7,884.4 600.0,884.5 C603.3,884.6 606.7,885.9 610.0,886.0 C613.3,886.1 616.7,884.9 620.0,885.0 C623.3,885.1 626.7,886.2 630.0,886.5 C633.3,886.8 637.3,886.8 640.0,887.0 C642.7,887.2 645.0,887.4 646.0,887.5" fill="none" stroke="#ff0000" stroke-width="4.2" stroke-linejoin="round" stroke-linecap="round"/>
<path d="M674.0,887.5 C674.5,886.9 675.3,884.7 677.0,884.0 C678.7,883.3 681.5,883.4 684.0,883.5 C686.5,883.6 689.3,884.2 692.0,884.5 C694.7,884.8 697.0,885.2 700.0,885.5 C703.0,885.8 706.7,885.8 710.0,886.0 C713.3,886.2 715.8,886.5 720.0,886.5 C724.2,886.5 730.0,886.0 735.0,886.0 C740.0,886.0 745.0,886.5 750.0,886.5 C755.0,886.5 760.0,886.0 765.0,886.0 C770.0,886.0 775.5,886.4 780.0,886.5 C784.5,886.6 788.7,886.5 792.0,886.5 C795.3,886.5 797.7,887.9 800.0,886.8 C802.3,885.7 803.4,883.4 806.0,880.0 C808.6,876.6 813.1,870.3 815.6,866.6 C818.1,862.9 819.0,860.8 821.0,858.0 C823.0,855.2 825.5,851.9 827.7,849.7 C829.9,847.5 831.6,846.4 834.0,845.0 C836.4,843.6 839.3,841.8 842.3,841.2 C845.3,840.6 848.8,840.6 852.0,841.2 C855.2,841.8 858.4,844.6 861.6,844.9 C864.8,845.2 867.8,843.4 871.0,843.0 C874.2,842.6 877.5,842.1 881.0,842.4 C884.5,842.7 888.4,844.1 892.0,845.0 C895.6,845.9 899.5,847.8 902.8,847.8 C906.1,847.8 909.0,845.8 912.0,845.0 C915.0,844.2 918.2,842.9 920.9,843.0 C923.6,843.1 925.4,844.7 928.0,845.5 C930.6,846.3 932.9,847.5 936.6,847.8 C940.3,848.0 944.8,847.4 950.0,847.0 C955.2,846.6 964.3,847.1 968.0,845.3 C971.7,843.5 970.4,839.5 972.0,836.0 C973.6,832.5 975.8,828.1 977.8,824.3 C979.8,820.5 981.8,816.2 984.0,813.0 C986.2,809.8 989.2,805.7 991.0,805.0 C992.8,804.3 993.6,806.8 995.0,809.0 C996.4,811.2 997.7,816.0 999.5,818.2 C1001.3,820.4 1003.6,820.8 1006.0,822.0 C1008.4,823.2 1010.0,824.8 1014.0,825.5 C1018.0,826.2 1024.0,826.0 1030.0,826.0 C1036.0,826.0 1045.0,824.8 1050.3,825.5 C1055.6,826.2 1058.0,828.2 1062.0,830.0 C1066.0,831.8 1070.8,836.4 1074.5,836.4 C1078.2,836.4 1080.6,832.4 1084.0,830.0 C1087.4,827.6 1092.2,822.6 1095.0,821.9 C1097.8,821.2 1098.8,824.8 1101.0,826.0 C1103.2,827.2 1103.9,828.6 1108.4,829.1 C1112.9,829.6 1121.8,828.4 1127.8,829.1 C1133.8,829.8 1140.2,832.8 1144.7,833.3 C1149.2,833.8 1151.7,831.8 1154.5,832.0 C1157.3,832.2 1159.7,835.8 1161.8,834.5 C1163.9,833.2 1165.0,827.8 1167.0,824.0 C1169.0,820.2 1171.7,816.8 1173.9,811.5 C1176.1,806.2 1177.8,798.9 1180.0,792.0 C1182.2,785.1 1184.9,776.1 1187.2,770.3 C1189.5,764.5 1191.4,761.2 1194.0,757.0 C1196.6,752.8 1199.9,747.8 1202.9,745.0 C1205.9,742.2 1208.4,741.8 1212.0,740.0 C1215.6,738.2 1221.0,735.8 1224.7,734.0 C1228.4,732.2 1230.8,730.6 1234.0,729.0 C1237.2,727.4 1240.7,726.0 1244.0,724.4 C1247.3,722.8 1250.8,720.9 1254.0,719.5 C1257.2,718.1 1259.1,716.6 1263.4,715.9 C1267.7,715.2 1274.3,715.7 1280.0,715.5 C1285.7,715.3 1292.3,715.0 1297.3,714.7 C1302.3,714.5 1306.0,714.3 1310.0,714.0 C1314.0,713.7 1316.5,712.7 1321.5,712.8 C1326.5,712.9 1334.0,714.0 1340.0,714.5 C1346.0,715.0 1353.1,715.8 1357.8,716.0 C1362.5,716.2 1364.6,716.1 1368.0,715.5 C1371.4,714.9 1375.8,716.5 1378.3,712.3 C1380.8,708.0 1381.2,699.7 1383.0,690.0 C1384.8,680.3 1387.2,665.9 1389.2,654.2 C1391.2,642.5 1393.0,629.1 1395.0,620.0 C1397.0,610.9 1399.4,603.5 1401.3,599.8 C1403.2,596.1 1403.1,597.7 1406.2,598.0 C1409.3,598.3 1415.6,600.4 1420.0,601.5 C1424.4,602.6 1428.2,602.9 1432.8,604.6 C1437.3,606.3 1442.8,610.0 1447.3,611.9 C1451.8,613.8 1455.6,614.7 1460.0,616.0 C1464.4,617.3 1469.2,618.9 1473.9,619.8 C1478.6,620.7 1484.0,619.8 1488.4,621.5 C1492.8,623.2 1497.7,626.9 1500.5,630.0 C1503.3,633.1 1503.4,636.4 1505.0,640.0 C1506.6,643.6 1508.5,649.0 1510.2,651.8 C1511.9,654.6 1512.6,656.0 1515.0,656.6 C1517.4,657.2 1521.9,657.0 1524.7,655.4 C1527.5,653.8 1529.2,647.8 1532.0,647.0 C1534.8,646.2 1538.9,649.1 1541.6,650.6 C1544.3,652.1 1545.3,654.5 1548.4,656.1 C1551.5,657.7 1556.0,658.8 1560.0,660.0 C1564.0,661.2 1568.6,662.6 1572.6,663.4 C1576.6,664.2 1580.0,664.5 1584.0,665.0 C1588.0,665.5 1592.5,665.5 1596.8,666.3 C1601.1,667.0 1606.0,668.6 1610.0,669.5 C1614.0,670.4 1615.2,671.0 1621.0,671.9 C1626.8,672.8 1636.9,674.0 1645.0,675.0 C1653.1,676.0 1665.3,677.4 1669.4,677.9" fill="none" stroke="#ff0000" stroke-width="4.2" stroke-linejoin="round" stroke-linecap="round"/>
</g>
<text x="400.51" y="346.10" font-size="46.60" textLength="118.95" lengthAdjust="spacingAndGlyphs" fill="#000" filter="url(#thin)">fibers</text>
<text x="549.90" y="346.10" font-size="48.00" textLength="108.19" lengthAdjust="spacingAndGlyphs" fill="#000" filter="url(#thin)">PGM</text>
<text x="675.31" y="345.90" font-size="48.00" textLength="97.90" lengthAdjust="spacingAndGlyphs" fill="#000" filter="url(#thin)">ADP</text>
<text x="1271.63" y="275.70" font-size="48.00" textLength="106.23" lengthAdjust="spacingAndGlyphs" fill="#000" filter="url(#thin)">Succ</text>
<text x="1457.71" y="100.80" font-size="48.00" textLength="132.35" lengthAdjust="spacingAndGlyphs" fill="#000" filter="url(#thin)">FCCP</text>
<text x="1567.01" y="138.30" font-size="48.00" textLength="117.79" lengthAdjust="spacingAndGlyphs" fill="#000" filter="url(#thin)">Cyt C</text>
<path d="M453.9,359.0 L458.5,359.0 L458.5,421.3 L467.8,421.3 L456.2,442.3 L444.6,421.3 L453.9,421.3 Z" fill="#000"/>
<path d="M597.9,359.0 L602.5,359.0 L602.5,422.3 L611.8,422.3 L600.2,443.3 L588.6,422.3 L597.9,422.3 Z" fill="#000"/>
<path d="M716.4,357.6 L721.0,357.6 L721.0,420.3 L730.3,420.3 L718.7,441.3 L707.1,420.3 L716.4,420.3 Z" fill="#000"/>
<path d="M1318.7,289.0 L1323.3,289.0 L1323.3,351.5 L1332.6,351.5 L1321.0,372.5 L1309.4,351.5 L1318.7,351.5 Z" fill="#000"/>
<path d="M1521.6,114.4 L1526.2,114.4 L1526.2,176.4 L1535.5,176.4 L1523.9,197.4 L1512.3,176.4 L1521.6,176.4 Z" fill="#000"/>
<path d="M1618.7,150.4 L1623.3,150.4 L1623.3,215.3 L1632.6,215.3 L1621.0,236.3 L1609.4,215.3 L1618.7,215.3 Z" fill="#000"/>
<text x="410.31" y="766.30" font-size="46.60" textLength="118.54" lengthAdjust="spacingAndGlyphs" fill="#000" filter="url(#thin)">fibers</text>
<text x="553.90" y="766.30" font-size="48.00" textLength="108.19" lengthAdjust="spacingAndGlyphs" fill="#000" filter="url(#thin)">PGM</text>
<text x="744.01" y="763.80" font-size="48.00" textLength="97.08" lengthAdjust="spacingAndGlyphs" fill="#000" filter="url(#thin)">ADP</text>
<text x="1111.11" y="711.80" font-size="48.00" textLength="107.16" lengthAdjust="spacingAndGlyphs" fill="#000" filter="url(#thin)">Succ</text>
<text x="1306.65" y="581.60" font-size="48.00" textLength="131.09" lengthAdjust="spacingAndGlyphs" fill="#000" filter="url(#thin)">FCCP</text>
<text x="1454.56" y="524.00" font-size="48.00" textLength="120.28" lengthAdjust="spacingAndGlyphs" fill="#000" filter="url(#thin)">Cyt C</text>
<path d="M462.3,778.4 L466.9,778.4 L466.9,840.8 L476.2,840.8 L464.6,861.8 L453.0,840.8 L462.3,840.8 Z" fill="#000"/>
<path d="M601.7,778.4 L606.3,778.4 L606.3,842.0 L615.6,842.0 L604.0,863.0 L592.4,842.0 L601.7,842.0 Z" fill="#000"/>
<path d="M784.8,777.0 L789.4,777.0 L789.4,839.6 L798.7,839.6 L787.1,860.6 L775.5,839.6 L784.8,839.6 Z" fill="#000"/>
<path d="M1158.1,725.0 L1162.7,725.0 L1162.7,787.6 L1172.0,787.6 L1160.4,808.6 L1148.8,787.6 L1158.1,787.6 Z" fill="#000"/>
<path d="M1365.1,595.0 L1369.7,595.0 L1369.7,657.4 L1379.0,657.4 L1367.4,678.4 L1355.8,657.4 L1365.1,657.4 Z" fill="#000"/>
<path d="M1508.7,536.9 L1513.3,536.9 L1513.3,599.3 L1522.6,599.3 L1511.0,620.3 L1499.4,599.3 L1508.7,599.3 Z" fill="#000"/>
<line x1="181.60" y1="1095.10" x2="181.60" y2="1671.10" stroke="#454545" stroke-width="2.7"/>
<line x1="166.30" y1="1669.80" x2="612.20" y2="1669.80" stroke="#454545" stroke-width="2.7"/>
<line x1="166.30" y1="1669.80" x2="181.60" y2="1669.80" stroke="#454545" stroke-width="2.7"/>
<text x="136.34" y="1683.10" font-size="44.50" textLength="23.51" lengthAdjust="spacingAndGlyphs" fill="#000">0</text>
<line x1="166.30" y1="1555.12" x2="181.60" y2="1555.12" stroke="#454545" stroke-width="2.7"/>
<text x="112.83" y="1568.42" font-size="44.50" textLength="47.02" lengthAdjust="spacingAndGlyphs" fill="#000">50</text>
<line x1="166.30" y1="1440.44" x2="181.60" y2="1440.44" stroke="#454545" stroke-width="2.7"/>
<text x="89.32" y="1453.74" font-size="44.50" textLength="70.53" lengthAdjust="spacingAndGlyphs" fill="#000">100</text>
<line x1="166.30" y1="1325.76" x2="181.60" y2="1325.76" stroke="#454545" stroke-width="2.7"/>
<text x="89.32" y="1339.06" font-size="44.50" textLength="70.53" lengthAdjust="spacingAndGlyphs" fill="#000">150</text>
<line x1="166.30" y1="1211.08" x2="181.60" y2="1211.08" stroke="#454545" stroke-width="2.7"/>
<text x="89.32" y="1224.38" font-size="44.50" textLength="70.53" lengthAdjust="spacingAndGlyphs" fill="#000">200</text>
<line x1="166.30" y1="1096.40" x2="181.60" y2="1096.40" stroke="#454545" stroke-width="2.7"/>
<text x="89.32" y="1109.70" font-size="44.50" textLength="70.53" lengthAdjust="spacingAndGlyphs" fill="#000">250</text>
<rect x="207.20" y="1356.30" width="162.80" height="313.50" fill="#fff" stroke="#454545" stroke-width="2.7"/>
<rect x="423.50" y="1512.20" width="164.00" height="157.60" fill="#000"/>
<line x1="290.10" y1="1179.50" x2="290.10" y2="1531.30" stroke="#454545" stroke-width="2.7"/>
<line x1="269.60" y1="1179.50" x2="310.60" y2="1179.50" stroke="#454545" stroke-width="2.7"/>
<line x1="269.60" y1="1531.30" x2="310.60" y2="1531.30" stroke="#454545" stroke-width="2.7"/>
<line x1="505.70" y1="1416.00" x2="505.70" y2="1512.20" stroke="#454545" stroke-width="2.7"/>
<line x1="485.20" y1="1416.00" x2="526.20" y2="1416.00" stroke="#454545" stroke-width="2.7"/>
<text x="203.68" y="1060.90" font-size="55.60" textLength="381.73" lengthAdjust="spacingAndGlyphs" font-weight="bold" fill="#000">a. State 3 of CI</text>
<text transform="rotate(-90)" x="-1488.17" y="55.82" font-size="42.81" textLength="210.14" lengthAdjust="spacingAndGlyphs" fill="#000">pmol/S*mg</text>
<text x="338.30 374.50" y="1132.09" style="font-family:&quot;DejaVu Sans&quot;,sans-serif" font-size="56" fill="#000" stroke="#000" stroke-width="0.7">**</text>
<path d="M293.1,1151.6 L479.2,1151.6 L479.2,1144.4 L501.2,1155.4 L479.2,1166.4 L479.2,1159.2 L293.1,1159.2 Z" fill="#000"/>
<line x1="845.70" y1="1096.50" x2="845.70" y2="1671.10" stroke="#454545" stroke-width="2.7"/>
<line x1="831.10" y1="1669.80" x2="1276.00" y2="1669.80" stroke="#454545" stroke-width="2.7"/>
<line x1="831.10" y1="1669.80" x2="845.70" y2="1669.80" stroke="#454545" stroke-width="2.7"/>
<text x="798.94" y="1683.10" font-size="44.50" textLength="23.51" lengthAdjust="spacingAndGlyphs" fill="#000">0</text>
<line x1="831.10" y1="1555.40" x2="845.70" y2="1555.40" stroke="#454545" stroke-width="2.7"/>
<text x="775.43" y="1568.70" font-size="44.50" textLength="47.02" lengthAdjust="spacingAndGlyphs" fill="#000">80</text>
<line x1="831.10" y1="1441.00" x2="845.70" y2="1441.00" stroke="#454545" stroke-width="2.7"/>
<text x="751.92" y="1454.30" font-size="44.50" textLength="70.53" lengthAdjust="spacingAndGlyphs" fill="#000">160</text>
<line x1="831.10" y1="1326.60" x2="845.70" y2="1326.60" stroke="#454545" stroke-width="2.7"/>
<text x="751.92" y="1339.90" font-size="44.50" textLength="70.53" lengthAdjust="spacingAndGlyphs" fill="#000">240</text>
<line x1="831.10" y1="1212.20" x2="845.70" y2="1212.20" stroke="#454545" stroke-width="2.7"/>
<text x="751.92" y="1225.50" font-size="44.50" textLength="70.53" lengthAdjust="spacingAndGlyphs" fill="#000">320</text>
<line x1="831.10" y1="1097.80" x2="845.70" y2="1097.80" stroke="#454545" stroke-width="2.7"/>
<text x="751.92" y="1111.10" font-size="44.50" textLength="70.53" lengthAdjust="spacingAndGlyphs" fill="#000">400</text>
<rect x="871.80" y="1285.00" width="162.70" height="384.80" fill="#fff" stroke="#454545" stroke-width="2.7"/>
<rect x="1087.80" y="1434.40" width="162.70" height="235.40" fill="#000"/>
<line x1="953.50" y1="1199.40" x2="953.50" y2="1367.00" stroke="#454545" stroke-width="2.7"/>
<line x1="933.00" y1="1199.40" x2="974.00" y2="1199.40" stroke="#454545" stroke-width="2.7"/>
<line x1="933.00" y1="1367.00" x2="974.00" y2="1367.00" stroke="#454545" stroke-width="2.7"/>
<line x1="1168.40" y1="1414.20" x2="1168.40" y2="1434.40" stroke="#454545" stroke-width="2.7"/>
<line x1="1147.90" y1="1414.20" x2="1188.90" y2="1414.20" stroke="#454545" stroke-width="2.7"/>
<text x="871.12" y="1056.00" font-size="56.60" textLength="402.91" lengthAdjust="spacingAndGlyphs" font-weight="bold" fill="#000">b. State 3 of CII</text>
<text transform="rotate(-90)" x="-1491.51" y="719.15" font-size="42.16" textLength="213.01" lengthAdjust="spacingAndGlyphs" fill="#000">pmol/S*mg</text>
<text x="1012.80 1046.80 1082.90" y="1154.19" style="font-family:&quot;DejaVu Sans&quot;,sans-serif" font-size="56" fill="#000" stroke="#000" stroke-width="0.7">***</text>
<path d="M965.2,1173.2 L1152.0,1173.2 L1152.0,1166.0 L1174.0,1177.0 L1152.0,1188.0 L1152.0,1180.8 L965.2,1180.8 Z" fill="#000"/>
<line x1="1502.30" y1="1095.80" x2="1502.30" y2="1670.30" stroke="#454545" stroke-width="2.7"/>
<line x1="1487.10" y1="1669.00" x2="1932.70" y2="1669.00" stroke="#454545" stroke-width="2.7"/>
<line x1="1487.10" y1="1669.00" x2="1502.30" y2="1669.00" stroke="#454545" stroke-width="2.7"/>
<text x="1453.84" y="1682.30" font-size="44.50" textLength="23.51" lengthAdjust="spacingAndGlyphs" fill="#000">0</text>
<line x1="1487.10" y1="1554.62" x2="1502.30" y2="1554.62" stroke="#454545" stroke-width="2.7"/>
<text x="1406.82" y="1567.92" font-size="44.50" textLength="70.53" lengthAdjust="spacingAndGlyphs" fill="#000">120</text>
<line x1="1487.10" y1="1440.24" x2="1502.30" y2="1440.24" stroke="#454545" stroke-width="2.7"/>
<text x="1406.82" y="1453.54" font-size="44.50" textLength="70.53" lengthAdjust="spacingAndGlyphs" fill="#000">240</text>
<line x1="1487.10" y1="1325.86" x2="1502.30" y2="1325.86" stroke="#454545" stroke-width="2.7"/>
<text x="1406.82" y="1339.16" font-size="44.50" textLength="70.53" lengthAdjust="spacingAndGlyphs" fill="#000">360</text>
<line x1="1487.10" y1="1211.48" x2="1502.30" y2="1211.48" stroke="#454545" stroke-width="2.7"/>
<text x="1406.82" y="1224.78" font-size="44.50" textLength="70.53" lengthAdjust="spacingAndGlyphs" fill="#000">480</text>
<line x1="1487.10" y1="1097.10" x2="1502.30" y2="1097.10" stroke="#454545" stroke-width="2.7"/>
<text x="1406.82" y="1110.40" font-size="44.50" textLength="70.53" lengthAdjust="spacingAndGlyphs" fill="#000">600</text>
<rect x="1528.90" y="1269.00" width="162.40" height="400.00" fill="#fff" stroke="#454545" stroke-width="2.7"/>
<rect x="1743.80" y="1449.60" width="163.50" height="219.40" fill="#000"/>
<line x1="1610.70" y1="1182.30" x2="1610.70" y2="1355.70" stroke="#454545" stroke-width="2.7"/>
<line x1="1590.20" y1="1182.30" x2="1631.20" y2="1182.30" stroke="#454545" stroke-width="2.7"/>
<line x1="1590.20" y1="1355.70" x2="1631.20" y2="1355.70" stroke="#454545" stroke-width="2.7"/>
<line x1="1825.50" y1="1429.40" x2="1825.50" y2="1449.60" stroke="#454545" stroke-width="2.7"/>
<line x1="1805.00" y1="1429.40" x2="1846.00" y2="1429.40" stroke="#454545" stroke-width="2.7"/>
<text x="1532.45" y="1052.20" font-size="56.60" textLength="211.34" lengthAdjust="spacingAndGlyphs" font-weight="bold" fill="#000">c. FCCP</text>
<text transform="rotate(-90)" x="-1490.90" y="1375.82" font-size="42.81" textLength="212.40" lengthAdjust="spacingAndGlyphs" fill="#000">pmol/S*mg</text>
<text x="1651.00 1687.00 1722.90" y="1144.29" style="font-family:&quot;DejaVu Sans&quot;,sans-serif" font-size="56" fill="#000" stroke="#000" stroke-width="0.7">***</text>
<path d="M1604.5,1164.5 L1791.3,1164.5 L1791.3,1157.3 L1813.3,1168.3 L1791.3,1179.3 L1791.3,1172.1 L1604.5,1172.1 Z" fill="#000"/>
<line x1="177.60" y1="1790.50" x2="177.60" y2="2367.30" stroke="#454545" stroke-width="2.7"/>
<line x1="161.60" y1="2366.00" x2="608.40" y2="2366.00" stroke="#454545" stroke-width="2.7"/>
<line x1="161.60" y1="2366.00" x2="177.60" y2="2366.00" stroke="#454545" stroke-width="2.7"/>
<text x="94.88" y="2379.30" font-size="44.50" textLength="58.77" lengthAdjust="spacingAndGlyphs" fill="#000">0.0</text>
<line x1="161.60" y1="2251.16" x2="177.60" y2="2251.16" stroke="#454545" stroke-width="2.7"/>
<text x="95.07" y="2264.46" font-size="44.50" textLength="58.77" lengthAdjust="spacingAndGlyphs" fill="#000">0.8</text>
<line x1="161.60" y1="2136.32" x2="177.60" y2="2136.32" stroke="#454545" stroke-width="2.7"/>
<text x="95.09" y="2149.62" font-size="44.50" textLength="58.77" lengthAdjust="spacingAndGlyphs" fill="#000">1.6</text>
<line x1="161.60" y1="2021.48" x2="177.60" y2="2021.48" stroke="#454545" stroke-width="2.7"/>
<text x="94.47" y="2034.78" font-size="44.50" textLength="58.77" lengthAdjust="spacingAndGlyphs" fill="#000">2.4</text>
<line x1="161.60" y1="1906.64" x2="177.60" y2="1906.64" stroke="#454545" stroke-width="2.7"/>
<text x="95.36" y="1919.94" font-size="44.50" textLength="58.77" lengthAdjust="spacingAndGlyphs" fill="#000">3.2</text>
<line x1="161.60" y1="1791.80" x2="177.60" y2="1791.80" stroke="#454545" stroke-width="2.7"/>
<text x="94.88" y="1805.10" font-size="44.50" textLength="58.77" lengthAdjust="spacingAndGlyphs" fill="#000">4.0</text>
<rect x="202.30" y="1976.60" width="163.90" height="389.40" fill="#fff" stroke="#454545" stroke-width="2.7"/>
<rect x="417.50" y="2184.60" width="163.50" height="181.40" fill="#000"/>
<line x1="283.30" y1="1922.60" x2="283.30" y2="2024.10" stroke="#454545" stroke-width="2.7"/>
<line x1="262.80" y1="1922.60" x2="303.80" y2="1922.60" stroke="#454545" stroke-width="2.7"/>
<line x1="262.80" y1="2024.10" x2="303.80" y2="2024.10" stroke="#454545" stroke-width="2.7"/>
<line x1="498.90" y1="2160.20" x2="498.90" y2="2184.60" stroke="#454545" stroke-width="2.7"/>
<line x1="478.40" y1="2160.20" x2="519.40" y2="2160.20" stroke="#454545" stroke-width="2.7"/>
<text x="203.68" y="1773.20" font-size="54.04" textLength="319.01" lengthAdjust="spacingAndGlyphs" font-weight="bold" fill="#000">a. RCR of CI</text>
<text transform="rotate(-90)" x="-2187.51" y="67.61" font-size="43.34" textLength="213.43" lengthAdjust="spacingAndGlyphs" fill="#000">pmol/S*mg</text>
<text x="324.50 360.60 396.60" y="1883.19" style="font-family:&quot;DejaVu Sans&quot;,sans-serif" font-size="56" fill="#000" stroke="#000" stroke-width="0.7">***</text>
<path d="M279.4,1902.5 L465.4,1902.5 L465.4,1895.3 L487.4,1906.3 L465.4,1917.3 L465.4,1910.1 L279.4,1910.1 Z" fill="#000"/>
<line x1="1504.20" y1="1779.50" x2="1504.20" y2="2355.40" stroke="#454545" stroke-width="2.7"/>
<line x1="1487.10" y1="2354.10" x2="1935.80" y2="2354.10" stroke="#454545" stroke-width="2.7"/>
<line x1="1487.10" y1="2354.10" x2="1504.20" y2="2354.10" stroke="#454545" stroke-width="2.7"/>
<text x="1422.38" y="2367.40" font-size="44.50" textLength="58.77" lengthAdjust="spacingAndGlyphs" fill="#000">0.0</text>
<line x1="1487.10" y1="2239.44" x2="1504.20" y2="2239.44" stroke="#454545" stroke-width="2.7"/>
<text x="1422.86" y="2252.74" font-size="44.50" textLength="58.77" lengthAdjust="spacingAndGlyphs" fill="#000">1.2</text>
<line x1="1487.10" y1="2124.78" x2="1504.20" y2="2124.78" stroke="#454545" stroke-width="2.7"/>
<text x="1421.97" y="2138.08" font-size="44.50" textLength="58.77" lengthAdjust="spacingAndGlyphs" fill="#000">2.4</text>
<line x1="1487.10" y1="2010.12" x2="1504.20" y2="2010.12" stroke="#454545" stroke-width="2.7"/>
<text x="1422.59" y="2023.42" font-size="44.50" textLength="58.77" lengthAdjust="spacingAndGlyphs" fill="#000">3.6</text>
<line x1="1487.10" y1="1895.46" x2="1504.20" y2="1895.46" stroke="#454545" stroke-width="2.7"/>
<text x="1422.57" y="1908.76" font-size="44.50" textLength="58.77" lengthAdjust="spacingAndGlyphs" fill="#000">4.8</text>
<line x1="1487.10" y1="1780.80" x2="1504.20" y2="1780.80" stroke="#454545" stroke-width="2.7"/>
<text x="1422.38" y="1794.10" font-size="44.50" textLength="58.77" lengthAdjust="spacingAndGlyphs" fill="#000">6.0</text>
<rect x="1530.80" y="1935.90" width="162.80" height="418.20" fill="#fff" stroke="#454545" stroke-width="2.7"/>
<rect x="1745.70" y="2135.50" width="163.50" height="218.60" fill="#000"/>
<line x1="1611.80" y1="1867.10" x2="1611.80" y2="2002.00" stroke="#454545" stroke-width="2.7"/>
<line x1="1591.30" y1="1867.10" x2="1632.30" y2="1867.10" stroke="#454545" stroke-width="2.7"/>
<line x1="1591.30" y1="2002.00" x2="1632.30" y2="2002.00" stroke="#454545" stroke-width="2.7"/>
<line x1="1826.30" y1="2122.20" x2="1826.30" y2="2135.50" stroke="#454545" stroke-width="2.7"/>
<line x1="1805.80" y1="2122.20" x2="1846.80" y2="2122.20" stroke="#454545" stroke-width="2.7"/>
<text x="1530.91" y="1759.10" font-size="55.60" textLength="342.03" lengthAdjust="spacingAndGlyphs" font-weight="bold" fill="#000">b. RCR of CII</text>
<text transform="rotate(-90)" x="-2175.81" y="1395.05" font-size="42.16" textLength="212.91" lengthAdjust="spacingAndGlyphs" fill="#000">pmol/S*mg</text>
<text x="1653.00 1689.00 1725.00" y="1825.09" style="font-family:&quot;DejaVu Sans&quot;,sans-serif" font-size="56" fill="#000" stroke="#000" stroke-width="0.7">***</text>
<path d="M1608.0,1843.9 L1794.7,1843.9 L1794.7,1836.7 L1816.7,1847.7 L1794.7,1858.7 L1794.7,1851.5 L1608.0,1851.5 Z" fill="#000"/>
<rect x="801.9" y="1968.9" width="132.6" height="93.2" fill="#fff" stroke="#000" stroke-width="3.8"/>
<rect x="800.70" y="2155.30" width="135.70" height="95.80" fill="#000"/>
<text x="1036.66" y="2033.60" font-size="56.60" textLength="155.38" lengthAdjust="spacingAndGlyphs" font-weight="bold" fill="#000">Sham</text>
<text x="1036.36" y="2218.00" font-size="56.74" textLength="180.34" lengthAdjust="spacingAndGlyphs" font-weight="bold" fill="#000">24 hpb</text>
</svg>
</body></html>
